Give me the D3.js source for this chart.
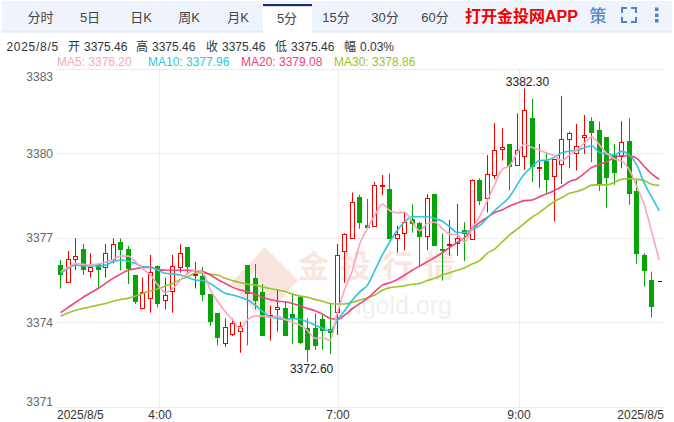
<!DOCTYPE html>
<html><head><meta charset="utf-8">
<script src="https://cdn.jsdelivr.net/npm/d3@7"></script>
<style>html,body{margin:0;padding:0;background:#fff}svg{display:block}text{font-family:"Liberation Sans","Noto Sans CJK SC",sans-serif}</style>
</head><body><div id="c"></div>
<script>
const tabs=["分时","5日","日K","周K","月K","5分","15分","30分","60分"];
const yTicks=[3371,3374,3377,3380,3383];
const xTickLabels=["2025/8/5","4:00","7:00","9:00","2025/8/5"];
const infoItems=["2025/8/5","开","3375.46","高","3375.46","收","3375.46","低","3375.46","幅","0.03%"];
const maNames=["MA5: 3376.20","MA10: 3377.96","MA20: 3379.08","MA30: 3378.86"];
const opens=[3376.03,3375.43,3376.23,3376.62,3375.83,3376.07,3375.97,3376.23,3376.85,3376.60,3375.68,3374.48,3374.84,3376.00,3374.77,3375.12,3375.97,3376.67,3375.68,3375.64,3375.00,3374.33,3373.24,3373.56,3373.67,3376.03,3375.57,3375.07,3374.25,3374.45,3374.51,3374.29,3374.89,3373.80,3373.80,3374.10,3373.75,3374.37,3376.51,3376.98,3378.45,3377.44,3377.39,3378.85,3378.73,3376.98,3377.16,3377.65,3377.54,3377.07,3378.55,3376.62,3376.72,3376.80,3377.26,3376.97,3379.05,3378.40,3379.22,3380.13,3380.33,3379.58,3379.90,3381.24,3379.49,3379.74,3379.17,3379.61,3380.50,3380.02,3380.57,3381.15,3380.83,3380.57,3379.94,3379.88,3380.44,3378.66,3376.38,3375.50,3375.46];
const closes=[3375.71,3376.23,3376.35,3375.90,3375.97,3375.91,3376.45,3376.77,3376.60,3375.94,3374.75,3375.06,3375.77,3374.70,3374.96,3375.99,3376.45,3376.00,3375.71,3375.00,3374.04,3373.48,3373.82,3373.96,3373.86,3375.05,3374.78,3373.55,3374.27,3374.53,3373.55,3374.15,3373.28,3373.06,3373.19,3373.70,3373.65,3376.38,3377.12,3378.26,3377.57,3377.38,3378.86,3378.87,3377.00,3377.13,3377.56,3377.50,3377.07,3378.43,3376.75,3376.58,3376.77,3376.98,3377.17,3379.05,3378.34,3379.25,3380.11,3380.21,3379.55,3380.11,3381.53,3379.53,3379.52,3379.10,3379.79,3380.50,3380.71,3380.27,3380.64,3380.77,3378.92,3379.14,3379.35,3380.39,3378.60,3376.47,3375.84,3374.56,3375.46];
const highs=[3376.21,3376.53,3376.98,3376.78,3376.45,3376.09,3376.78,3376.98,3376.98,3376.71,3375.68,3375.59,3376.39,3376.02,3375.59,3376.39,3376.77,3376.67,3376.15,3375.97,3375.00,3374.33,3374.14,3374.14,3374.02,3376.03,3376.07,3375.36,3374.58,3375.15,3374.73,3375.03,3374.89,3374.14,3374.32,3374.29,3374.65,3376.78,3377.16,3378.61,3378.53,3378.38,3378.98,3379.23,3379.29,3377.43,3377.93,3378.19,3377.57,3378.55,3378.55,3377.16,3377.63,3378.20,3377.55,3379.07,3379.11,3379.94,3381.07,3380.89,3380.33,3381.42,3382.30,3381.93,3380.33,3380.04,3379.79,3382.04,3380.77,3381.04,3381.36,3381.28,3381.13,3380.57,3380.33,3381.14,3381.24,3379.05,3376.45,3375.80,3375.46];
const lows=[3375.20,3375.41,3375.85,3375.68,3375.59,3375.20,3375.59,3376.09,3375.85,3375.36,3374.65,3374.46,3374.34,3374.53,3374.46,3374.34,3375.76,3375.68,3375.20,3374.75,3373.87,3373.18,3373.13,3373.51,3372.92,3373.18,3374.46,3373.55,3373.35,3373.67,3373.52,3373.23,3373.23,3372.60,3373.02,3373.04,3372.87,3373.55,3375.40,3376.97,3377.32,3377.38,3377.39,3378.52,3376.98,3376.47,3376.56,3377.18,3376.00,3376.56,3376.75,3375.48,3376.36,3376.36,3376.17,3376.94,3378.16,3377.90,3379.08,3379.74,3378.68,3379.55,3379.41,3378.98,3378.78,3378.56,3377.58,3378.91,3379.47,3379.39,3379.98,3379.68,3378.66,3378.07,3378.88,3379.47,3378.17,3376.07,3375.27,3374.17,3375.46];
const ma5=[3375.80,3375.95,3376.09,3376.06,3376.04,3376.07,3376.13,3376.23,3376.35,3376.35,3376.15,3375.88,3375.68,3375.32,3375.06,3375.20,3375.50,3375.74,3375.85,3375.77,3375.15,3374.73,3374.38,3374.08,3373.78,3374.10,3374.22,3374.22,3374.17,3374.22,3374.10,3373.99,3373.90,3373.70,3373.43,3373.45,3373.37,3374.35,3375.20,3375.85,3376.80,3377.33,3377.81,3378.20,3377.96,3377.89,3377.90,3377.57,3377.25,3377.51,3377.55,3377.33,3377.13,3377.10,3376.86,3377.33,3377.75,3378.30,3378.88,3379.43,3379.56,3380.00,3380.33,3380.21,3380.12,3380.00,3379.91,3379.74,3379.94,3380.12,3380.36,3380.59,3380.30,3380.00,3379.80,3379.73,3379.41,3378.82,3378.17,3377.22,3376.20];
const ma10=[3375.74,3375.91,3376.03,3376.01,3376.00,3376.00,3376.03,3376.15,3376.21,3376.17,3376.09,3375.97,3375.95,3375.85,3375.74,3375.71,3375.68,3375.59,3375.50,3375.48,3375.38,3375.20,3375.03,3374.97,3374.89,3374.79,3374.61,3374.38,3374.20,3374.14,3374.10,3374.14,3374.10,3374.02,3373.90,3373.78,3373.70,3374.08,3374.43,3374.79,3375.09,3375.32,3375.85,3376.39,3376.86,3377.27,3377.57,3377.75,3377.75,3377.75,3377.69,3377.59,3377.39,3377.19,3377.19,3377.30,3377.43,3377.70,3377.97,3378.20,3378.46,3378.88,3379.27,3379.53,3379.74,3379.76,3379.86,3380.02,3380.08,3380.10,3380.20,3380.26,3380.04,3379.97,3379.94,3380.07,3379.94,3379.59,3378.94,3378.44,3377.96];
const ma20=[3374.34,3374.53,3374.71,3374.89,3375.05,3375.20,3375.38,3375.56,3375.71,3375.85,3375.90,3375.95,3375.95,3375.88,3375.85,3375.85,3375.85,3375.85,3375.83,3375.80,3375.68,3375.52,3375.38,3375.24,3375.15,3375.09,3374.99,3374.89,3374.81,3374.75,3374.73,3374.67,3374.58,3374.49,3374.41,3374.29,3374.14,3374.10,3374.26,3374.49,3374.67,3374.85,3375.09,3375.32,3375.40,3375.52,3375.68,3375.85,3376.00,3376.15,3376.30,3376.47,3376.66,3376.84,3377.01,3377.30,3377.55,3377.72,3377.90,3377.99,3378.13,3378.23,3378.32,3378.34,3378.46,3378.56,3378.68,3378.82,3379.00,3379.09,3379.29,3379.50,3379.60,3379.71,3379.85,3379.92,3379.91,3379.82,3379.53,3379.27,3379.08];
const ma30=[3374.22,3374.33,3374.43,3374.49,3374.55,3374.61,3374.67,3374.75,3374.81,3374.85,3374.93,3375.03,3375.11,3375.19,3375.29,3375.38,3375.52,3375.62,3375.75,3375.76,3375.71,3375.68,3375.56,3375.48,3375.41,3375.35,3375.32,3375.26,3375.20,3375.15,3375.09,3375.00,3374.93,3374.89,3374.81,3374.75,3374.67,3374.65,3374.65,3374.71,3374.79,3374.87,3374.97,3375.14,3375.23,3375.26,3375.30,3375.35,3375.38,3375.48,3375.56,3375.68,3375.76,3375.85,3375.94,3376.07,3376.19,3376.45,3376.60,3376.85,3377.10,3377.30,3377.52,3377.73,3377.90,3378.11,3378.29,3378.43,3378.58,3378.64,3378.74,3378.87,3378.88,3378.88,3378.97,3379.08,3379.10,3379.08,3379.03,3378.90,3378.86];

const W=674,H=422;
const svg=d3.select("#c").append("svg").attr("width",W).attr("height",H);
const x=d3.scaleLinear().domain([0,80]).range([60.7,659.2]);
const y=d3.scaleLinear().domain([3371,3383]).range([406.8,68.8]);
const px=i=>Math.round(x(i)-0.5)+0.5;

// toolbar
svg.append("rect").attr("x",2).attr("y",1).attr("width",670).attr("height",31).attr("fill","#eff4fc");
svg.append("line").attr("x1",2).attr("x2",672).attr("y1",32).attr("y2",32).attr("stroke","#dde3ee");
const tabX=[40.5,90,141,189,238,287,336,385,435];
svg.append("rect").attr("x",263).attr("y",5).attr("width",49).attr("height",28).attr("fill","#fff");
svg.append("rect").attr("x",263).attr("y",4).attr("width",49).attr("height",2.2).attr("fill","#0f2f78");
svg.selectAll(".tab").data(tabs).join("text").attr("x",(d,i)=>tabX[i]).attr("y",(d,i)=>i==5?23:22).attr("text-anchor","middle").attr("font-size",13).attr("fill","#444").text(d=>d);
svg.append("text").attr("x",465).attr("y",21.5).attr("font-size",16).attr("font-weight","bold").attr("fill","#f30000").text("打开金投网APP");
svg.append("text").attr("x",598).attr("y",22).attr("text-anchor","middle").attr("font-size",17).attr("font-weight","500").attr("fill","#5a8cc8").text("策");
const iconCol="#4a86cf";
[[622,8,1,1],[636,8,-1,1],[622,22,1,-1],[636,22,-1,-1]].forEach(([a,b,sx,sy])=>{
  svg.append("path").attr("d",`M${a+sx*5},${b}H${a}V${b+sy*5}`).attr("fill","none").attr("stroke",iconCol).attr("stroke-width",2);
});
[7.5,13.5,19].forEach(t=>svg.append("rect").attr("x",655).attr("y",t).attr("width",3.5).attr("height",3.5).attr("fill",iconCol));

// info
const infoX=[6.5,68,84,136,152,206,222,275,291,344,360];
svg.selectAll(".inf").data(infoItems).join("text").attr("x",(d,i)=>infoX[i]).attr("y",51).attr("font-size",12).attr("fill","#333").attr("letter-spacing",(d,i)=>i==0?0.7:0).text(d=>d);
const maX=[57,148,241,334], maC=["#fba4c0","#2ec4e0","#f0447c","#9cc32a"];
svg.selectAll(".man").data(maNames).join("text").attr("x",(d,i)=>maX[i]).attr("y",66).attr("font-size",12).attr("fill",(d,i)=>maC[i]).text(d=>d);

// grid
const g=svg.append("g");
yTicks.forEach(t=>g.append("line").attr("x1",57).attr("x2",664).attr("y1",Math.round(y(t))+.5).attr("y2",Math.round(y(t))+.5).attr("stroke","#ececec"));
[159.5,338.5,519.5].forEach(vx=>g.append("line").attr("x1",vx).attr("x2",vx).attr("y1",69).attr("y2",407).attr("stroke","#ececec"));
const yAxis=d3.axisLeft(y).tickValues(yTicks).tickSize(0).tickFormat(d3.format("d"));
const ya=svg.append("g").attr("transform","translate(57,0)").call(yAxis);
ya.select(".domain").remove();
ya.selectAll("text").attr("font-size",12).attr("fill","#666").attr("font-family",'"Liberation Sans"').attr("dx",-1)
  .attr("dy",d=>d==3383?"0.95em":d==3371?"-0.15em":"0.32em");
const xLabX=[57,160,338,519,664], xAnch=["start","middle","middle","middle","end"];
svg.selectAll(".xl").data(xTickLabels).join("text").attr("x",(d,i)=>xLabX[i]).attr("y",419).attr("text-anchor",(d,i)=>xAnch[i]).attr("font-size",12).attr("fill","#333").text(d=>d);

// watermark
const wm=svg.append("g");
wm.append("path").attr("d","M265,247 L298,280 L265,318 L247,300 L262,285 L255,270 L243,283 L262,305 L255,313 L231,283 Z").attr("fill","#f9e4df");
["金","投","行","情"].forEach((c,i)=>wm.append("text").attr("x",298+i*42).attr("y",277).attr("font-size",31).attr("font-weight","bold").attr("fill","#f9e6e1").text(c));
wm.append("text").attr("x",452).attr("y",314).attr("text-anchor","end").attr("font-size",25).attr("fill","#f0f0f0").text("cngold.org");

// candles
const idx=d3.range(opens.length);
const red="#f40000",grn="#06a406";
const isDoji=i=>opens[i]===closes[i]&&highs[i]===lows[i];
const col=i=>closes[i]>=opens[i]?red:grn;
svg.append("g").selectAll("line").data(idx.filter(i=>!isDoji(i))).join("line")
 .attr("x1",px).attr("x2",px).attr("y1",i=>y(highs[i])).attr("y2",i=>y(lows[i])).attr("stroke",col).attr("stroke-width",1);
svg.append("g").selectAll("rect").data(idx.filter(i=>!isDoji(i))).join("rect")
 .attr("x",i=>px(i)-2).attr("width",4)
 .attr("y",i=>Math.round(y(Math.max(opens[i],closes[i])))+.5)
 .attr("height",i=>Math.max(1,Math.round(Math.abs(y(opens[i])-y(closes[i])))))
 .attr("fill",i=>closes[i]>=opens[i]?"#fff":grn)
 .attr("stroke",col).attr("stroke-width",1);
svg.append("g").selectAll("rect").data(idx.filter(isDoji)).join("rect")
 .attr("x",i=>px(i)-1.5).attr("width",4).attr("y",i=>Math.round(y(closes[i]))).attr("height",1).attr("fill","#222");

// MA lines
const ln=d3.line().x((d,i)=>x(i)).y(d=>y(d)).curve(d3.curveMonotoneX);
[ma30,ma20,ma10,ma5].forEach((s,k)=>svg.append("path").attr("d",ln(s)).attr("fill","none").attr("stroke",[maC[3],maC[2],maC[1],maC[0]][k]).attr("stroke-width",1.6));

// extremes
svg.append("text").attr("x",x(62)+3).attr("y",y(3382.30)-3).attr("text-anchor","middle").attr("font-size",12).attr("fill","#222").text(d3.format(".2f")(3382.30));
svg.append("text").attr("x",x(33)+4).attr("y",y(3372.60)+11).attr("text-anchor","middle").attr("font-size",12).attr("fill","#222").text(d3.format(".2f")(3372.60));
</script></body></html>
